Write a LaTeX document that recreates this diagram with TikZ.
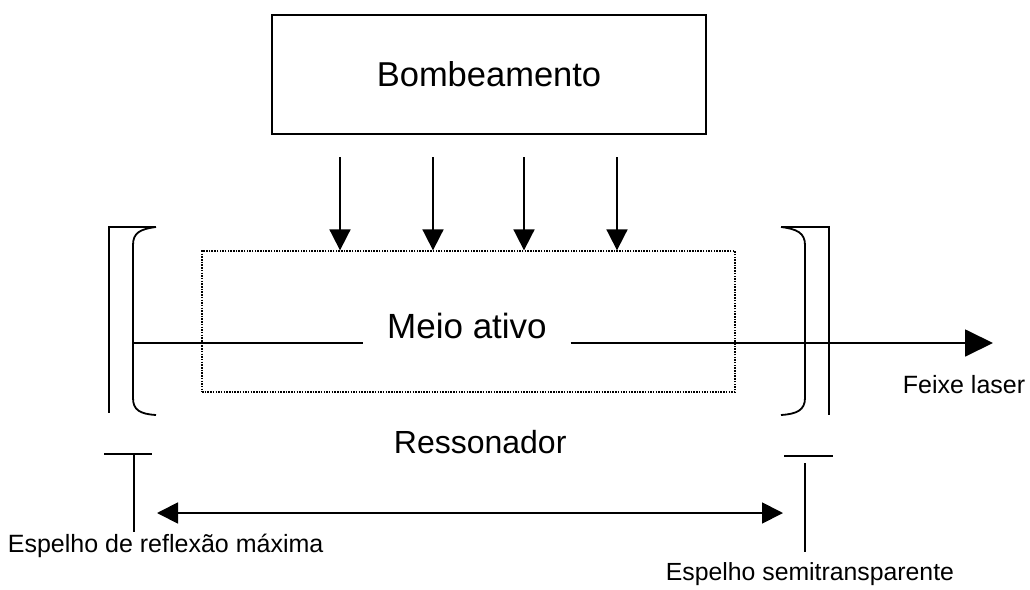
\documentclass[tikz,border=0pt]{standalone}
\usepackage{fontspec}
\setmainfont{Liberation Sans}
\usetikzlibrary{arrows.meta}

\begin{document}
\begin{tikzpicture}[x=1pt, y=-1pt, line width=1.8pt,
	arr/.style={-{Triangle[length=21pt,width=21pt]}},
	bigarr/.style={-{Triangle[length=28pt,width=27pt]}},
	lbl/.style={anchor=base west, inner sep=0pt, font=\fontsize{25}{30}\selectfont}]
	\path[use as bounding box] (0,0) rectangle (1030,589);
	
	\node[draw, line width=1.4pt, minimum width=434pt, minimum height=119pt,
		font=\fontsize{34.5}{40}\selectfont] (bomb) at (489,74.5) {Bombeamento};
	\node[draw, line width=1.3pt, dash pattern=on 1.5pt off 1.2pt,
		minimum width=533pt, minimum height=141pt] (box) at (468.5,321.5) {};
	
	\foreach \x [count=\i] in {340,433,524,617} {
		\coordinate (top\i) at (\x,157);
		\draw [arr] (top\i) -- (box.north -| top\i);
	}
	
	% feixe
	\node[anchor=base, inner sep=0pt, inner xsep=23pt,
		font=\fontsize{35}{42}\selectfont] (meio) at (467,338) {Meio ativo};
	\coordinate (bl) at (133,343);
	\coordinate (bt) at (993,343);
	\draw (bl) -- (meio.west |- bl);
	\draw [bigarr] (meio.east |- bl) -- (bt);
	\node[lbl] (feixe) at (902,393) {Feixe laser};
	
	% espelhos
	\draw (156,227) -- (109,227) -- (109,413);
	\draw (156,227) .. controls (140,229) and (133,233) .. (133,245) -- (133,398)
		.. controls (133,410) and (140,414) .. (156,415);
	\draw (781,227) -- (829,227) -- (829,415);
	\draw (781,227) .. controls (797,229) and (805,233) .. (805,245) -- (805,398)
		.. controls (805,410) and (797,414) .. (781,415);
	
	\draw (104,454) -- (152,454);
	\draw (134,454) -- (134,532);
	\draw (784,456) -- (833,456);
	\draw (805,463) -- (805,552);
	
	\node[lbl, font=\fontsize{32}{38}\selectfont] (res) at (393,453) {Ressonador};
	\coordinate (rl) at (157,513);
	\coordinate (rr) at (783,513);
	\draw [{Triangle[length=21pt,width=21pt]}-{Triangle[length=21pt,width=21pt]}] (rl) -- (rr);
	
	\node[lbl] (esp1) at (7,552) {Espelho de reflexão máxima};
	\node[lbl, font=\fontsize{24.8}{30}\selectfont] (esp2) at (665,580) {Espelho semitransparente};
\end{tikzpicture}
\end{document}
